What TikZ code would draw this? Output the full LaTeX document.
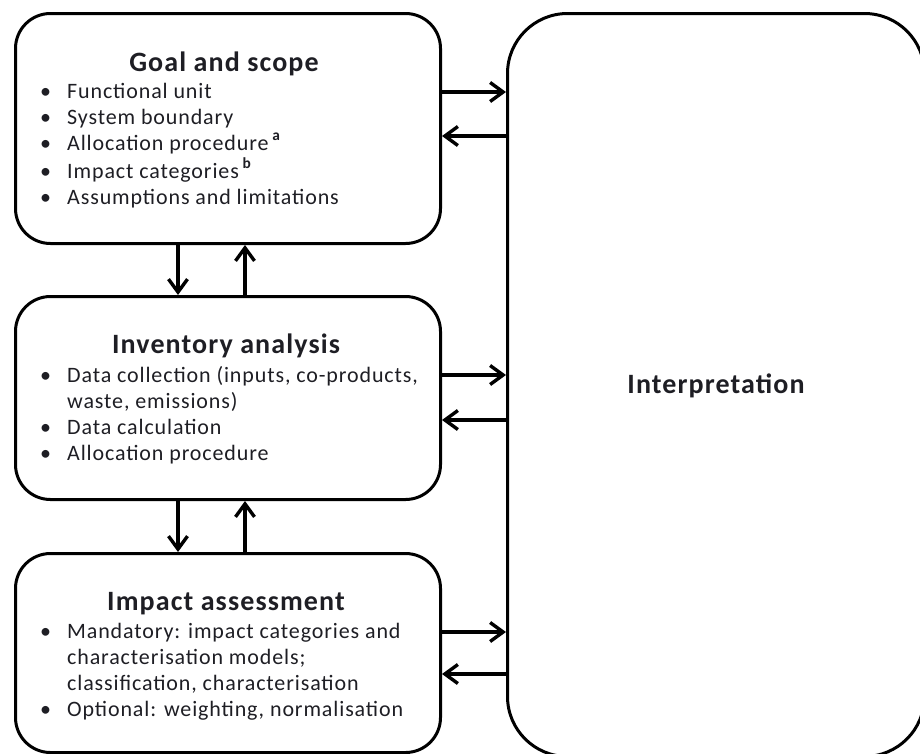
\documentclass[tikz,border=0pt]{standalone}
\usepackage{fontspec}
\setmainfont{Carlito}[LetterSpace=4]
\usetikzlibrary{arrows.meta}
\definecolor{ink}{HTML}{1E1E24}
\begin{document}
\begin{tikzpicture}[x=1pt,y=-1pt,
  box/.style={draw=black, line width=3pt, rounded corners=35pt, inner sep=0pt, anchor=north west},
  bigbox/.style={box, rounded corners=60pt},
  arr/.style={line width=3.6pt, -{Straight Barb[length=13pt,width=19pt,line width=3.4pt]}},
  ttl/.style={anchor=base, inner sep=0pt, text=ink, font=\fontsize{28}{32}\selectfont\bfseries},
  body/.style={anchor=base west, inner sep=0pt, text=ink, font=\fontsize{22}{26}\selectfont},
]
\useasboundingbox (0,0) rectangle (920,753);
\clip (0,0) rectangle (920,753);

% boxes
\node[box, minimum width=425pt, minimum height=230pt] (goal) at (14,12) {};
\node[box, minimum width=425pt, minimum height=203pt] (inv) at (14,295) {};
\node[box, minimum width=425pt, minimum height=199pt] (imp) at (14,552) {};
\node[bigbox, minimum width=417pt, minimum height=743pt] (interp) at (506,12) {};

% titles
\node[ttl] (goalttl) at (224,71) {Goal and scope};
\node[ttl] (invttl) at (226,353) {Inventory analysis};
\node[ttl] (impttl) at (226,610) {Impact assessment};
\node[ttl] (interpttl) at (716,393) {Interpretation};

% bullet lists
\node[body] (goallist) at (40,98) {\begin{tabular}[t]{@{}p{27pt}@{}l@{}}
\textbullet & Functional unit\\
\textbullet & System boundary\\
\textbullet & Allocation procedure\,\raisebox{2pt}{\textsuperscript{\bfseries a}}\\
\textbullet & Impact categories\,\raisebox{2pt}{\textsuperscript{\bfseries b}}\\
\textbullet & Assumptions and limitations
\end{tabular}};

\node[body] (invlist) at (40,382) {\begin{tabular}[t]{@{}p{27pt}@{}l@{}}
\textbullet & Data collection (inputs, co-products,\\
 & waste, emissions)\\
\textbullet & Data calculation\\
\textbullet & Allocation procedure
\end{tabular}};

\node[body] (implist) at (40,638) {\begin{tabular}[t]{@{}p{27pt}@{}l@{}}
\textbullet & Mandatory: impact categories and\\
 & characterisation models;\\
 & classification, characterisation\\
\textbullet & Optional: weighting, normalisation
\end{tabular}};

% horizontal connectors
\coordinate (h1) at (0,92);
\coordinate (h2) at (0,136);
\coordinate (h3) at (0,375);
\coordinate (h4) at (0,420);
\coordinate (h5) at (0,632);
\coordinate (h6) at (0,674);
\draw[arr] (h1 -| goal.east) -- (h1 -| interp.west);
\draw[arr] (h2 -| interp.west) -- (h2 -| goal.east);
\draw[arr] (h3 -| inv.east) -- (h3 -| interp.west);
\draw[arr] (h4 -| interp.west) -- (h4 -| inv.east);
\draw[arr] (h5 -| imp.east) -- (h5 -| interp.west);
\draw[arr] (h6 -| interp.west) -- (h6 -| imp.east);

% vertical connectors
\coordinate (v1) at (178,0);
\coordinate (v2) at (245,0);
\draw[arr] (v1 |- goal.south) -- (v1 |- inv.north);
\draw[arr] (v2 |- inv.north) -- (v2 |- goal.south);
\draw[arr] (v1 |- inv.south) -- (v1 |- imp.north);
\draw[arr] (v2 |- imp.north) -- (v2 |- inv.south);
\end{tikzpicture}
\end{document}
